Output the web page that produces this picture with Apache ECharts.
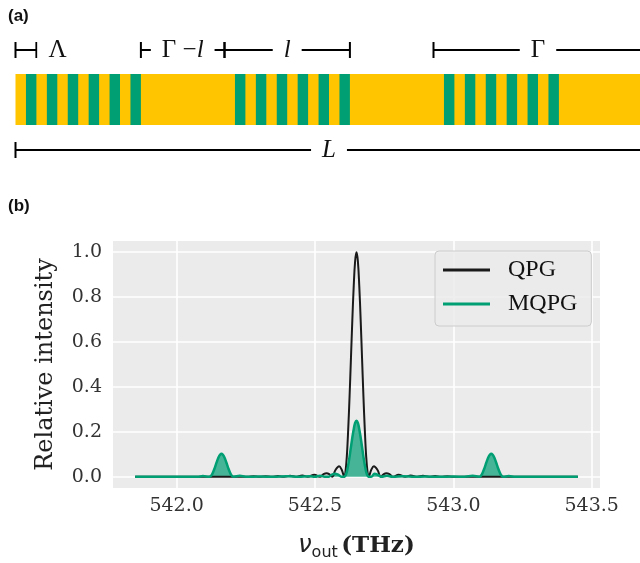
<!DOCTYPE html>
<html><head><meta charset="utf-8">
<script src="https://cdn.jsdelivr.net/npm/echarts@6/dist/echarts.min.js"></script>
<style>html,body{margin:0;padding:0;background:#fff}#c{width:640px;height:563px}</style>
</head><body><div id="c"></div>
<script>
// ---------- Panel (a): crystal layout (lengths in units of Λ) ----------
const crystalLength = 30;
const poledDomainStarts = [0.5,1.5,2.5,3.5,4.5,5.5, 10.5,11.5,12.5,13.5,14.5,15.5, 20.5,21.5,22.5,23.5,24.5,25.5];
const poledDomainWidth = 0.5;
const bracketFrom  = [0, 6, 10, 20, 0];
const bracketTo    = [1, 10, 16, 30, 30];
const bracketRow   = ['top', 'top', 'top', 'top', 'bottom'];
const bracketLabel = ['{up|Λ}', '{up|Γ −}{it|l}', '{it|l}', '{up|Γ}', '{it|L}'];
const bracketLabelPlace = ['right', 'center', 'center', 'center', 'center'];

// ---------- Panel (b): spectra ----------
const xTicks = [542.0, 542.5, 543.0, 543.5];
const yTicks = [0.0, 0.2, 0.4, 0.6, 0.8, 1.0];
const seriesNames = ['QPG', 'MQPG'];

const qpgX = [541.85,542.00,542.10,542.20,542.256,542.278,542.300,542.322,542.344,542.366,542.388,542.410,542.430,542.454,542.474,542.498,542.518,542.530,542.542,542.552,542.562,542.574,542.587,542.597,542.606,
  542.610,542.615,542.620,542.625,542.630,542.635,542.640,542.645,542.650,542.655,542.660,542.665,542.670,542.675,542.680,542.685,542.690,542.694,
  542.703,542.713,542.726,542.738,542.748,542.758,542.770,542.782,542.802,542.826,542.846,542.870,542.890,542.912,542.934,542.956,542.978,543.000,543.10,543.20,543.30,543.45];
const qpgY = [0,0,0,0,0,0.002,0,0.0025,0,0.003,0,0.004,0,0.006,0,0.009,0,0.011,0.016,0.011,0,0.03,0.047,0.03,0,
  0.02,0.09,0.21,0.36,0.53,0.70,0.85,0.96,1.0,0.96,0.85,0.70,0.53,0.36,0.21,0.09,0.02,0,
  0.03,0.047,0.03,0,0.011,0.016,0.011,0,0.009,0,0.006,0,0.004,0,0.003,0,0.002,0,0,0,0,0];

const mqpgX = [541.85,542.00,542.075,542.095,542.118,542.122,542.127,542.132,542.137,542.142,542.147,542.152,542.157,542.162,542.167,542.172,542.177,542.182,542.187,542.192,542.197,542.202,542.206,
  542.228,542.250,542.30,542.35,542.40,542.44,542.48,542.50,542.518,542.535,542.550,542.560,542.572,542.585,542.597,
  542.605,542.610,542.615,542.620,542.625,542.630,542.635,542.640,542.645,542.650,542.655,542.660,542.665,542.670,542.675,542.680,542.685,542.690,542.695,
  542.703,542.715,542.728,542.740,542.760,542.780,542.82,542.86,542.90,542.95,543.00,543.04,543.070,543.094,
  543.098,543.102,543.107,543.112,543.117,543.122,543.127,543.132,543.137,543.142,543.147,543.152,543.157,543.162,543.167,543.172,543.176,543.180,
  543.200,543.225,543.30,543.45];
const mqpgY = [0,0,0,0.003,0,0.002,0.008,0.021,0.037,0.055,0.073,0.088,0.098,0.103,0.098,0.088,0.073,0.055,0.037,0.021,0.008,0.002,0,
  0.004,0,0.001,0,0.002,0,0.002,0,0.005,0,0,0.009,0.014,0.008,0,
  0,0.005,0.022,0.052,0.09,0.133,0.175,0.212,0.24,0.25,0.24,0.212,0.175,0.133,0.09,0.052,0.022,0.005,0,
  0,0.013,0.008,0,0.005,0,0.002,0,0.001,0,0.001,0,0.004,0,
  0.002,0.008,0.021,0.037,0.055,0.073,0.088,0.098,0.103,0.098,0.088,0.073,0.055,0.037,0.021,0.008,0.002,0,
  0.003,0,0,0];

// ---------- build ----------
const rowValue = {top: 1.47, bottom: -0.49};
const stripeData = [[0, crystalLength, 0]].concat(poledDomainStarts.map(s => [s, s + poledDomainWidth, 1]));
const bracketData = bracketFrom.map((f, i) => [f, bracketTo[i], rowValue[bracketRow[i]]]);
const pair = (xs, ys) => xs.map((x, i) => [x, ys[i]]);

const serifMath = 'Liberation Serif, DejaVu Serif, serif';
const labelRich = {
  up: {fontFamily: serifMath, fontSize: 25, fill: '#111', color: '#111'},
  it: {fontFamily: serifMath, fontSize: 25, fontStyle: 'italic', fill: '#111', color: '#111'}
};

const chart = echarts.init(document.getElementById('c'), null, {renderer: 'canvas'});
chart.setOption({
  animation: false,
  backgroundColor: '#fff',
  graphic: [
    {type: 'text', left: 8, top: 8, style: {text: '(a)', font: 'bold 17px "Liberation Sans", Arial, sans-serif', fill: '#111'}},
    {type: 'text', left: 8, top: 198, style: {text: '(b)', font: 'bold 17px "Liberation Sans", Arial, sans-serif', fill: '#111'}}
  ],
  grid: [
    {left: 15.5, top: 23, width: 624.5, height: 153, show: false},
    {left: 113, top: 241, width: 487, height: 247, show: true, backgroundColor: '#EBEBEB', borderWidth: 0}
  ],
  xAxis: [
    // the figure is cropped at the right edge, just before the end of the crystal
    {gridIndex: 0, type: 'value', min: 0, max: 29.88, show: false},
    {gridIndex: 1, type: 'value', min: 541.77, max: 543.53,
     axisLine: {show: false}, axisTick: {show: false, customValues: xTicks},
     axisLabel: {customValues: xTicks, formatter: v => v.toFixed(1), fontFamily: 'DejaVu Serif', fontSize: 19, color: '#333', margin: 9},
     splitLine: {show: true, lineStyle: {color: '#fff', width: 1.6}},
     name: '{nu|ν}{sub|out} {b|(THz)}', nameLocation: 'middle', nameGap: 43,
     nameTextStyle: {rich: {
       nu: {fontFamily: 'DejaVu Sans', fontStyle: 'italic', fontSize: 24, color: '#222'},
       sub: {fontFamily: 'DejaVu Sans', fontSize: 16, color: '#222', padding: [14, 0, 0, 0]},
       b: {fontFamily: 'DejaVu Serif', fontWeight: 'bold', fontSize: 23, color: '#222'}
     }}}
  ],
  yAxis: [
    {gridIndex: 0, type: 'value', min: -1, max: 2, show: false},
    {gridIndex: 1, type: 'value', min: -0.05, max: 1.05,
     axisLine: {show: false}, axisTick: {show: false, customValues: yTicks},
     axisLabel: {customValues: yTicks, formatter: v => v.toFixed(1), fontFamily: 'DejaVu Serif', fontSize: 19, color: '#333', margin: 11},
     splitLine: {show: true, lineStyle: {color: '#fff', width: 1.6}},
     name: 'Relative intensity', nameLocation: 'middle', nameGap: 55,
     nameTextStyle: {fontFamily: 'DejaVu Serif', fontSize: 24, color: '#222'}}
  ],
  legend: {
    data: seriesNames, orient: 'vertical', left: 435, top: 251,
    padding: [7, 14, 10, 8], itemGap: 10, itemWidth: 47, itemHeight: 3, icon: 'rect',
    backgroundColor: 'rgba(235,235,235,0.85)', borderColor: '#cccccc', borderWidth: 1, borderRadius: 4,
    textStyle: {fontFamily: 'Liberation Serif, DejaVu Serif', fontSize: 24, color: '#111', padding: [0, 0, 0, 13], lineHeight: 24}
  },
  series: [
    {type: 'custom', xAxisIndex: 0, yAxisIndex: 0, silent: true, data: stripeData, clip: false,
     renderItem: (params, api) => {
       const p0 = api.coord([api.value(0), 1]);
       const p1 = api.coord([api.value(1), 0]);
       return {type: 'rect', shape: {x: p0[0], y: p0[1], width: p1[0] - p0[0], height: p1[1] - p0[1]},
               style: {fill: api.value(2) ? '#009E73' : '#FFC600'}};
     }},
    {type: 'custom', xAxisIndex: 0, yAxisIndex: 0, silent: true, data: bracketData, z: 5, clip: false,
     renderItem: (params, api) => {
       const i = params.dataIndex;
       const p0 = api.coord([api.value(0), api.value(2)]);
       const p1 = api.coord([api.value(1), api.value(2)]);
       const y = Math.round(p0[1]);
       const ls = {stroke: '#000', lineWidth: 2};
       const right = bracketLabelPlace[i] === 'right';
       return {type: 'group', children: [
         {type: 'line', shape: {x1: p0[0], y1: y, x2: p1[0], y2: y}, style: ls},
         {type: 'line', shape: {x1: p0[0], y1: y - 8, x2: p0[0], y2: y + 8}, style: ls},
         {type: 'line', shape: {x1: p1[0], y1: y - 8, x2: p1[0], y2: y + 8}, style: ls},
         {type: 'text', x: right ? p1[0] + 1 : (p0[0] + p1[0]) / 2, y: y,
          style: {text: bracketLabel[i], rich: labelRich, align: right ? 'left' : 'center', verticalAlign: 'middle',
                  backgroundColor: '#fff', padding: [2, 11, 2, 11], fill: '#111'}}
       ]};
     }},
    {name: 'QPG', type: 'line', xAxisIndex: 1, yAxisIndex: 1, data: pair(qpgX, qpgY),
     symbol: 'none', smooth: 0.4, lineStyle: {color: '#1a1a1a', width: 2}, itemStyle: {color: '#1a1a1a'}},
    {name: 'MQPG', type: 'line', xAxisIndex: 1, yAxisIndex: 1, data: pair(mqpgX, mqpgY),
     symbol: 'none', smooth: 0.4, lineStyle: {color: '#009E73', width: 2.5}, itemStyle: {color: '#009E73'},
     areaStyle: {color: '#009E73', opacity: 0.7}}
  ]
});
</script></body></html>
